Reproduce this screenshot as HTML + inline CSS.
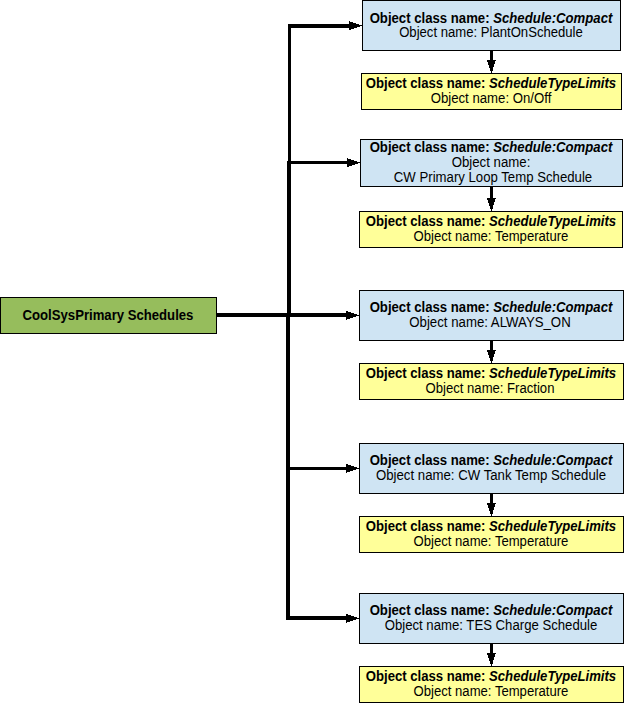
<!DOCTYPE html>
<html lang="en"><head><meta charset="utf-8"><title>CoolSysPrimary Schedules</title>
<style>
html,body{margin:0;padding:0;background:#fff;}
body{width:624px;height:703px;position:relative;overflow:hidden;font-family:"Liberation Sans",Arial,Helvetica,sans-serif;font-size:13.333px;color:#000;}
svg{position:absolute;left:0;top:0;}
.b{position:absolute;box-sizing:border-box;border:1px solid #000;}
.blue{background:#cfe4f3;}
.yel{background:#ffff99;}
.grn{background:#96bd5c;}
.t{position:absolute;width:400px;text-align:center;white-space:nowrap;font-size:14px;line-height:16px;height:16px;transform:scaleX(.942);transform-origin:center;}
.t b{font-weight:bold;}
.t i{font-style:italic;}
</style></head><body>

<svg width="624" height="703" viewBox="0 0 624 703" shape-rendering="crispEdges">
<g fill="#000">
<rect x="288" y="24" width="3" height="137"/>
<rect x="287" y="161" width="4" height="155"/>
<rect x="286" y="313" width="4" height="307"/>
<rect x="288" y="24" width="61" height="4"/>
<rect x="349" y="21" width="1" height="9"/>
<rect x="350" y="22" width="1" height="8"/>
<rect x="351" y="22" width="2" height="7"/>
<rect x="353" y="23" width="1" height="6"/>
<rect x="354" y="23" width="2" height="5"/>
<rect x="356" y="24" width="1" height="4"/>
<rect x="357" y="24" width="2" height="3"/>
<rect x="359" y="25" width="1" height="2"/>
<rect x="360" y="25" width="2" height="1"/>
<rect x="287" y="161" width="60" height="3"/>
<rect x="347" y="158" width="1" height="9"/>
<rect x="348" y="159" width="1" height="8"/>
<rect x="349" y="159" width="2" height="7"/>
<rect x="351" y="160" width="1" height="6"/>
<rect x="352" y="160" width="2" height="5"/>
<rect x="354" y="161" width="1" height="4"/>
<rect x="355" y="161" width="2" height="3"/>
<rect x="357" y="162" width="1" height="2"/>
<rect x="358" y="162" width="2" height="1"/>
<rect x="217" y="313" width="129" height="4"/>
<rect x="346" y="311" width="1" height="9"/>
<rect x="347" y="311" width="1" height="8"/>
<rect x="348" y="312" width="2" height="7"/>
<rect x="350" y="312" width="1" height="6"/>
<rect x="351" y="313" width="2" height="5"/>
<rect x="353" y="313" width="1" height="4"/>
<rect x="354" y="314" width="2" height="3"/>
<rect x="356" y="314" width="1" height="2"/>
<rect x="357" y="315" width="2" height="1"/>
<rect x="286" y="467" width="60" height="3"/>
<rect x="346" y="464" width="1" height="9"/>
<rect x="347" y="464" width="1" height="8"/>
<rect x="348" y="465" width="2" height="7"/>
<rect x="350" y="465" width="1" height="6"/>
<rect x="351" y="466" width="2" height="5"/>
<rect x="353" y="466" width="1" height="4"/>
<rect x="354" y="467" width="2" height="3"/>
<rect x="356" y="467" width="1" height="2"/>
<rect x="357" y="468" width="2" height="1"/>
<rect x="286" y="616" width="60" height="4"/>
<rect x="346" y="614" width="1" height="9"/>
<rect x="347" y="614" width="1" height="8"/>
<rect x="348" y="615" width="2" height="7"/>
<rect x="350" y="615" width="1" height="6"/>
<rect x="351" y="616" width="2" height="5"/>
<rect x="353" y="616" width="1" height="4"/>
<rect x="354" y="617" width="2" height="3"/>
<rect x="356" y="617" width="1" height="2"/>
<rect x="357" y="618" width="2" height="1"/>
<rect x="490" y="51" width="3" height="9"/>
<rect x="487" y="60" width="9" height="1"/>
<rect x="487" y="61" width="8" height="1"/>
<rect x="488" y="62" width="7" height="2"/>
<rect x="488" y="64" width="6" height="1"/>
<rect x="489" y="65" width="5" height="2"/>
<rect x="489" y="67" width="4" height="1"/>
<rect x="490" y="68" width="3" height="3"/>
<rect x="491" y="71" width="1" height="2"/>
<rect x="490" y="187" width="3" height="11"/>
<rect x="487" y="198" width="9" height="1"/>
<rect x="487" y="199" width="8" height="1"/>
<rect x="488" y="200" width="7" height="2"/>
<rect x="488" y="202" width="6" height="1"/>
<rect x="489" y="203" width="5" height="2"/>
<rect x="489" y="205" width="4" height="1"/>
<rect x="490" y="206" width="3" height="3"/>
<rect x="491" y="209" width="1" height="2"/>
<rect x="490" y="341" width="3" height="9"/>
<rect x="487" y="350" width="9" height="1"/>
<rect x="487" y="351" width="8" height="1"/>
<rect x="488" y="352" width="7" height="2"/>
<rect x="488" y="354" width="6" height="1"/>
<rect x="489" y="355" width="5" height="2"/>
<rect x="489" y="357" width="4" height="1"/>
<rect x="490" y="358" width="3" height="3"/>
<rect x="491" y="361" width="1" height="2"/>
<rect x="490" y="494" width="3" height="9"/>
<rect x="487" y="503" width="9" height="1"/>
<rect x="487" y="504" width="8" height="1"/>
<rect x="488" y="505" width="7" height="2"/>
<rect x="488" y="507" width="6" height="1"/>
<rect x="489" y="508" width="5" height="2"/>
<rect x="489" y="510" width="4" height="1"/>
<rect x="490" y="511" width="3" height="3"/>
<rect x="491" y="514" width="1" height="2"/>
<rect x="490" y="644" width="3" height="9"/>
<rect x="487" y="653" width="9" height="1"/>
<rect x="487" y="654" width="8" height="1"/>
<rect x="488" y="655" width="7" height="2"/>
<rect x="488" y="657" width="6" height="1"/>
<rect x="489" y="658" width="5" height="2"/>
<rect x="489" y="660" width="4" height="1"/>
<rect x="490" y="661" width="3" height="3"/>
<rect x="491" y="664" width="1" height="2"/>
</g></svg>
<div class="b grn" style="left:0;top:297px;width:217px;height:37px"><div class="t" style="top:9px;left:-92.8px;transform:scaleX(.938)"><b>CoolSysPrimary Schedules</b></div></div>
<div class="b blue" style="left:362px;top:0px;width:259px;height:51px"><div class="t" style="top:9px;left:-72.23px;transform:scaleX(0.9396)"><b>Object class name: <i>Schedule:Compact</i></b></div><div class="t" style="top:23px;left:-72.37px;transform:scaleX(0.9365)">Object name: PlantOnSchedule</div></div>
<div class="b yel" style="left:361px;top:73px;width:261px;height:37px"><div class="t" style="top:1px;left:-71.32px;transform:scaleX(0.9371)"><b>Object class name: <i>ScheduleTypeLimits</i></b></div><div class="t" style="top:16px;left:-70.82px;transform:scaleX(0.9416)">Object name: On/Off</div></div>
<div class="b blue" style="left:360px;top:139px;width:263px;height:48px"><div class="t" style="top:-1px;left:-70.23px;transform:scaleX(0.9396)"><b>Object class name: <i>Schedule:Compact</i></b></div><div class="t" style="top:14px;left:-69.63px;transform:scaleX(0.9446)">Object name:</div><div class="t" style="top:29px;left:-68.26px;transform:scaleX(0.9417)">CW Primary Loop Temp Schedule</div></div>
<div class="b yel" style="left:359px;top:211px;width:264px;height:37px"><div class="t" style="top:1px;left:-69.32px;transform:scaleX(0.9371)"><b>Object class name: <i>ScheduleTypeLimits</i></b></div><div class="t" style="top:16px;left:-69.28px;transform:scaleX(0.9353)">Object name: Temperature</div></div>
<div class="b blue" style="left:359px;top:290px;width:265px;height:51px"><div class="t" style="top:8px;left:-69.23px;transform:scaleX(0.9396)"><b>Object class name: <i>Schedule:Compact</i></b></div><div class="t" style="top:23px;left:-69.82px;transform:scaleX(0.9444)">Object name: ALWAYS_ON</div></div>
<div class="b yel" style="left:359px;top:363px;width:265px;height:37px"><div class="t" style="top:1px;left:-69.32px;transform:scaleX(0.9371)"><b>Object class name: <i>ScheduleTypeLimits</i></b></div><div class="t" style="top:16px;left:-69.54px;transform:scaleX(0.9356)">Object name: Fraction</div></div>
<div class="b blue" style="left:359px;top:443px;width:265px;height:51px"><div class="t" style="top:8px;left:-69.23px;transform:scaleX(0.9396)"><b>Object class name: <i>Schedule:Compact</i></b></div><div class="t" style="top:23px;left:-69.42px;transform:scaleX(0.9438)">Object name: CW Tank Temp Schedule</div></div>
<div class="b yel" style="left:359px;top:516px;width:265px;height:37px"><div class="t" style="top:1px;left:-69.32px;transform:scaleX(0.9371)"><b>Object class name: <i>ScheduleTypeLimits</i></b></div><div class="t" style="top:16px;left:-69.28px;transform:scaleX(0.9353)">Object name: Temperature</div></div>
<div class="b blue" style="left:359px;top:593px;width:265px;height:51px"><div class="t" style="top:8px;left:-69.23px;transform:scaleX(0.9396)"><b>Object class name: <i>Schedule:Compact</i></b></div><div class="t" style="top:23px;left:-69.33px;transform:scaleX(0.9402)">Object name: TES Charge Schedule</div></div>
<div class="b yel" style="left:359px;top:666px;width:265px;height:37px"><div class="t" style="top:1px;left:-69.32px;transform:scaleX(0.9371)"><b>Object class name: <i>ScheduleTypeLimits</i></b></div><div class="t" style="top:16px;left:-69.28px;transform:scaleX(0.9353)">Object name: Temperature</div></div>
</body></html>
